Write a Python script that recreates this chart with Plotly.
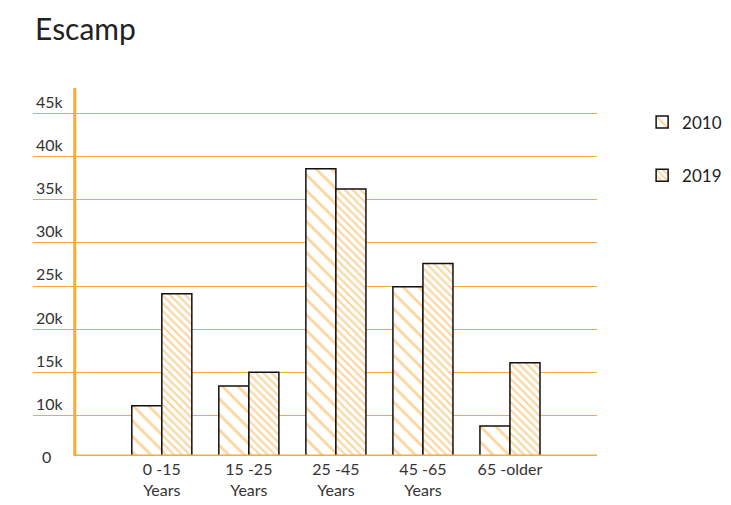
import plotly.graph_objects as go

categories = ["0 -15<br>Years", "15 -25<br>Years", "25 -45<br>Years", "45 -65<br>Years", "65 -older"]
values_2010 = [11100, 13400, 38600, 24900, 8750]
values_2019 = [24100, 15000, 36250, 27600, 16100]
tick_vals = [10000, 15000, 20000, 25000, 30000, 35000, 40000, 45000]
tick_text = ["10k", "15k", "20k", "25k", "30k", "35k", "40k", "45k"]

ORANGE = "#f9a93b"
FONT = "Lato, Open Sans, sans-serif"
Y_MIN, Y_MAX = 5280, 47970

fig = go.Figure()
fig.add_trace(go.Bar(
    x=categories, y=values_2010, name="2010", legendgroup="a",
    marker=dict(color="white", line=dict(color="#111", width=1.5),
                pattern=dict(shape="\\", fgcolor=ORANGE, bgcolor="white",
                             size=11, solidity=0.25)),
))
fig.add_trace(go.Bar(
    x=categories, y=values_2019, name="2019", legendgroup="b",
    marker=dict(color="white", line=dict(color="#111", width=1.5),
                pattern=dict(shape="\\", fgcolor=ORANGE, bgcolor="white",
                             size=5.5, solidity=0.4)),
))

# y axis line and baseline
fig.add_shape(type="line", xref="x", yref="paper", x0=-1, x1=-1, y0=0, y1=1,
              line=dict(color=ORANGE, width=3))
fig.add_shape(type="line", xref="x", yref="y", x0=-1, x1=5, y0=Y_MIN, y1=Y_MIN,
              line=dict(color=ORANGE, width=3))

fig.add_annotation(x=0, xref="paper", y=Y_MIN, yref="y", text="0",
                   showarrow=False, xanchor="left", xshift=7,
                   font=dict(family=FONT, size=16, color="#333"))

fig.update_layout(
    width=731, height=505,
    margin=dict(l=25, r=142, t=80, b=57),
    paper_bgcolor="white", plot_bgcolor="white",
    title=dict(text="Escamp", x=0.037, xanchor="left", y=0.957, yanchor="middle",
               font=dict(family=FONT, size=30, color="#222")),
    font=dict(family=FONT, size=16, color="#333"),
    barmode="group", bargap=0.31, bargroupgap=0,
    xaxis=dict(range=[-1.48, 5], showgrid=False, showline=False, ticks="",
               ticklabelstandoff=2,
               tickfont=dict(size=16, color="#333"), fixedrange=True),
    yaxis=dict(range=[Y_MIN, Y_MAX], tickvals=tick_vals, ticktext=tick_text,
               ticklabelposition="inside top", showgrid=True, gridcolor=ORANGE,
               gridwidth=1, zeroline=False, showline=False,
               tickfont=dict(size=16, color="#333")),
    legend=dict(x=1.08, y=0.955, xanchor="left", yanchor="top",
                tracegroupgap=28, font=dict(size=17, color="#222"),
                bgcolor="rgba(0,0,0,0)"),
    showlegend=True,
)

fig.write_html("out.html")
